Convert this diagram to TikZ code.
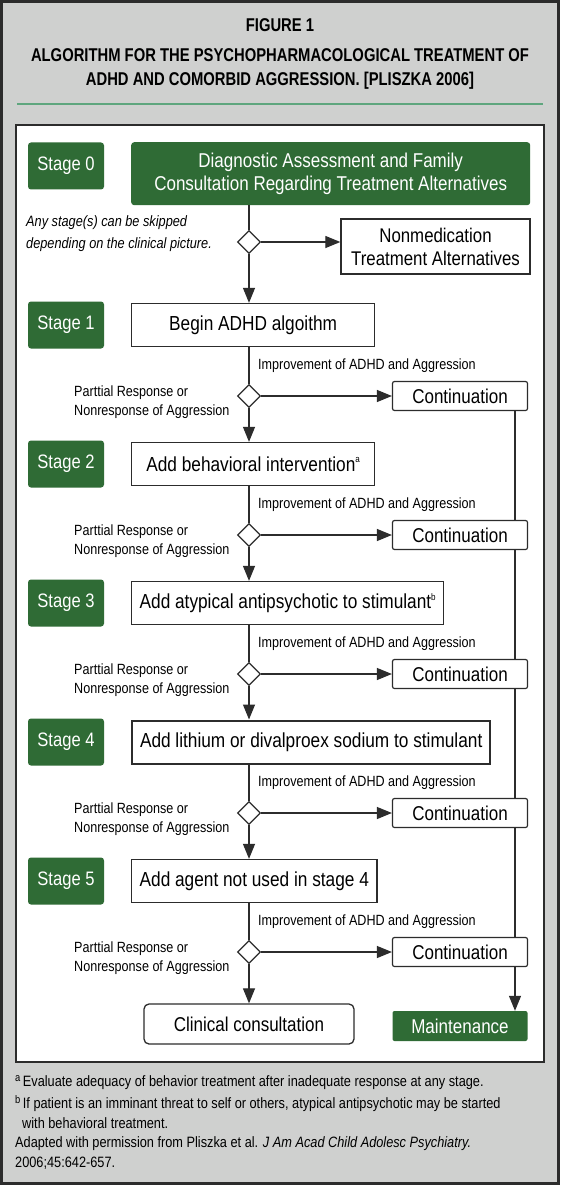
\documentclass[tikz,border=0pt]{standalone}
\usepackage{fontspec}
\setmainfont{Liberation Sans}[FakeStretch=0.85]
\newfontfamily\titlefont{Liberation Sans}[FakeStretch=0.8]
\usetikzlibrary{shapes.geometric,arrows.meta,positioning}
\definecolor{stagegreen}{HTML}{2F6B35}
\definecolor{rulegreen}{HTML}{5FA67E}
\definecolor{linedark}{HTML}{2C2C2C}
\definecolor{figgray}{HTML}{CFD0CF}
\pgfdeclarelayer{panel}
\pgfdeclarelayer{rail}
\pgfsetlayers{panel,rail,main}
\newcommand\supmark[1]{\raisebox{0.8ex}{\fontsize{9.5}{9.5}\selectfont #1}}
\newcommand\fnmark[1]{\raisebox{0.55ex}{\fontsize{11}{11}\selectfont #1}}

\tikzset{
  stagelbl/.style={fill=stagegreen, text=white, rounded corners=3pt, minimum width=76pt, minimum height=47pt, font=\fontsize{19.5}{22}\selectfont},
  stepbox/.style={draw=linedark, line width=1.3pt, fill=white, minimum height=43pt, minimum width=243pt, inner xsep=8pt, anchor=west, font=\fontsize{20.3}{24}\selectfont},
  choice/.style={diamond, draw=linedark, line width=1.2pt, fill=white, minimum width=23pt, minimum height=23pt, inner sep=0pt},
  contbox/.style={draw=linedark, line width=1.2pt, fill=white, rounded corners=2pt, minimum width=135pt, minimum height=29pt, font=\fontsize{20}{22}\selectfont},
  note/.style={font=\fontsize{14.8}{19}\selectfont, inner sep=0pt},
  fnote/.style={note, font=\fontsize{15}{19}\selectfont, anchor=base west},
  flow/.style={draw=linedark, line width=1.2pt},
  arr/.style={flow, -{Triangle[length=15pt,width=12pt]}},
}

\begin{document}
\begin{tikzpicture}[x=1pt, y=-1pt]
  \useasboundingbox (0,0) rectangle (560,1185);

  % Frame and panel
  \begin{pgfonlayer}{panel}
    \fill[figgray] (0,0) rectangle (560,1185);
    \draw[linedark, line width=3pt] (1.5,1.5) rectangle (558.5,1183.5);
    \draw[linedark, line width=1.2pt, fill=white] (16,125) rectangle (544,1062);
  \end{pgfonlayer}

  % Title
  \node[font=\titlefont\bfseries\fontsize{18.5}{24}\selectfont] (figno) at (280,25) {FIGURE 1};
  \node[font=\titlefont\bfseries\fontsize{18.5}{24}\selectfont, align=center] (title) at (280,69)
    {ALGORITHM FOR THE PSYCHOPHARMACOLOGICAL TREATMENT OF\\ADHD AND COMORBID AGGRESSION. [PLISZKA 2006]};
  \draw[rulegreen, line width=1.2pt] (17,104) -- (543,104);

  % Stage 0
  \node[stagelbl] (stage0) at (66,166) {Stage 0};
  \node[fill=stagegreen, text=white, rounded corners=3pt, minimum width=399pt, minimum height=63pt,
        anchor=north west, align=center, font=\fontsize{20}{23}\selectfont] (assess) at (131,142)
    {Diagnostic Assessment and Family\\Consultation Regarding Treatment Alternatives};
  \node[note, font=\itshape\fontsize{15}{19}\selectfont, anchor=base west] (skip1) at (26,226) {Any stage(s) can be skipped};
  \node[note, font=\itshape\fontsize{15}{19}\selectfont, anchor=base west] (skip2) at (26,248) {depending on the clinical picture.};
  \node[choice] (dec0) at (249,242) {};
  \node[draw=linedark, line width=1.3pt, fill=white, minimum width=189pt, minimum height=55pt,
        align=center, font=\fontsize{19.8}{23}\selectfont] (nonmed) at (435.5,246.5)
    {Nonmedication\\Treatment Alternatives};
  \draw[flow] (assess.south -| dec0) -- (dec0.north);
  \draw[arr] (dec0.east) -- (dec0.east -| nonmed.west);

  % Stages 1 to 5
  \foreach \n/\lw/\txt in {1/1.3pt/Begin ADHD algoithm,
                           2/1.3pt/Add behavioral intervention\supmark{a},
                           3/1.3pt/Add atypical antipsychotic to stimulant\supmark{b},
                           4/2pt/Add lithium or divalproex sodium to stimulant,
                           5/1.3pt/Add agent not used in stage 4} {
    \pgfmathsetmacro\yc{325+139*(\n-1)}
    \node[stagelbl] (stage\n) at (66,\yc) {Stage \n};
    \node[stepbox, line width=\lw] (step\n) at (131,\yc) {\txt};
    \node[choice] (dec\n) at (249,\yc+71) {};
    \node[contbox] (cont\n) at (460,\yc+71) {Continuation};
    \node[note, anchor=base west] (imp\n) at (258,\yc+44) {Improvement of ADHD and Aggression};
    \node[note, anchor=base west] (part\n) at (74,\yc+71) {Parttial Response or};
    \node[note, anchor=base west] (nonr\n) at (74,\yc+90) {Nonresponse of Aggression};
    \draw[flow] (step\n.south -| dec\n) -- (dec\n.north);
    \draw[arr] (dec\n) -- (cont\n);
  }

  % Down arrows
  \draw[arr] (dec0.south) -- (step1.north -| dec0);
  \foreach \n/\m in {1/2, 2/3, 3/4, 4/5}
    \draw[arr] (dec\n.south) -- (step\m.north -| dec\n);

  % End boxes
  \node[draw=linedark, line width=1.3pt, fill=white, rounded corners=5pt, minimum width=210pt, minimum height=40pt,
        font=\fontsize{20}{22}\selectfont] (consult) at (249,1024) {Clinical consultation};
  \node[fill=stagegreen, text=white, rounded corners=2pt, minimum width=135pt, minimum height=30pt,
        font=\fontsize{20}{22}\selectfont] (maint) at (460,1026) {Maintenance};
  \draw[arr] (dec5.south) -- (consult.north);

  % Rail to maintenance
  \coordinate (rail) at (515,400);
  \begin{pgfonlayer}{rail}
    \draw[arr] (cont1.south -| rail) -- (maint.north -| rail);
  \end{pgfonlayer}

  % Footnotes
  \node[fnote] (fna) at (15,1086)
    {\fnmark{a}\,Evaluate adequacy of behavior treatment after inadequate response at any stage.};
  \node[fnote] (fnb) at (15,1108)
    {\fnmark{b}\,If patient is an imminant threat to self or others, atypical antipsychotic may be started};
  \node[fnote] (fnb2) at (22,1128) {with behavioral treatment.};
  \node[fnote] (src1) at (15,1147)
    {Adapted with permission from Pliszka et al. \textit{J Am Acad Child Adolesc Psychiatry.}};
  \node[fnote] (src2) at (15,1167) {2006;45:642-657.};
\end{tikzpicture}
\end{document}
